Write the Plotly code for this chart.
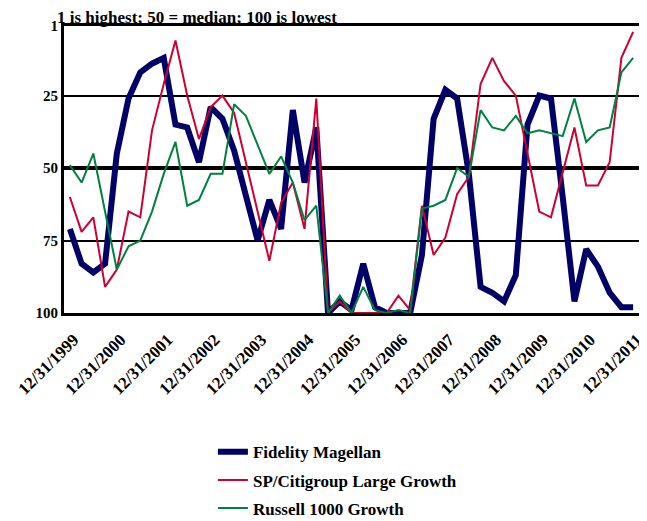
import plotly.graph_objects as go

# Quarter-end dates, 12/31/1999 .. 12/31/2011
quarters = []
for yr in range(1999, 2012):
    for md in ["3/31", "6/30", "9/30", "12/31"]:
        if yr == 1999 and md != "12/31":
            continue
        quarters.append(f"{md}/{yr}")

tick_dates = [f"12/31/{y}" for y in range(1999, 2012)]
tick_labels = [f"12/31/{y}" for y in range(1999, 2012)]

magellan = [71, 83, 86, 83, 45, 26, 17, 14, 12, 35, 36, 48, 29, 33, 44, 59, 75, 61, 71, 30,
            55, 36, 100, 96, 99, 83, 98, 100, 100, 100, 80, 33, 23, 26, 52, 91, 93, 96, 87, 35,
            25, 26, 60, 96, 78, 84, 93, 98, 98]
sp_citi = [60, 72, 67, 91, 85, 65, 67, 37, 21, 6, 25, 40, 29, 25, 31, 48, 65, 82, 62, 55,
           71, 26, 100, 96, 100, 100, 100, 100, 94, 99, 63, 80, 74, 59, 53, 21, 12, 20, 25, 45,
           65, 67, 52, 36, 56, 56, 48, 12, 3]
russell = [49, 55, 45, 65, 85, 77, 75, 65, 52, 41, 63, 61, 52, 52, 28, 32, 42, 52, 46, 55,
           68, 63, 100, 94, 100, 91, 99, 100, 99, 100, 64, 63, 61, 50, 53, 30, 36, 37, 32, 38,
           37, 38, 39, 26, 41, 37, 36, 17, 12]

y_ticks = [1, 25, 50, 75, 100]

FONT = "Liberation Serif"

fig = go.Figure()
fig.add_trace(go.Scatter(x=quarters, y=magellan, mode="lines", name="Fidelity Magellan",
                         legendgroup="a", line=dict(color="#000066", width=6)))
fig.add_trace(go.Scatter(x=quarters, y=sp_citi, mode="lines", name="SP/Citigroup Large Growth",
                         legendgroup="b", line=dict(color="#cc0033", width=2)))
fig.add_trace(go.Scatter(x=quarters, y=russell, mode="lines", name="Russell 1000 Growth",
                         legendgroup="c", line=dict(color="#008040", width=2)))

fig.add_hline(y=50, line=dict(color="black", width=4), layer="below")

W, H = 639, 513
fig.update_layout(
    width=W, height=H,
    margin=dict(l=56, r=8, t=18, b=208, autoexpand=False),
    paper_bgcolor="white", plot_bgcolor="white",
    font=dict(family=FONT, size=16, color="black", weight="bold"),
    title=dict(text="1 is highest; 50 = median; 100 is lowest",
               font=dict(family=FONT, size=17, color="black", weight="bold"),
               xref="container", x=49 / W, xanchor="left",
               yref="container", y=1 - 9.5 / H, yanchor="middle"),
    showlegend=True,
    legend=dict(orientation="v", x=0.259, xanchor="left", y=-0.4226, yanchor="top",
                font=dict(family=FONT, size=17, color="black", weight="bold"),
                bgcolor="rgba(0,0,0,0)", tracegroupgap=3),
    xaxis=dict(type="category", categoryorder="array", categoryarray=quarters,
               range=[-0.5, len(quarters) - 0.5], automargin=False,
               tickmode="array", tickvals=tick_dates, ticktext=tick_labels,
               tickangle=-45, ticks="", showgrid=False, ticklabelstandoff=7,
               ticklabelshift=4,
               showline=True, mirror=True, linecolor="black", linewidth=3,
               tickfont=dict(family=FONT, size=17, color="black", weight="bold")),
    yaxis=dict(range=[100, 1], tickmode="array", tickvals=y_ticks, automargin=False,
               ticktext=[str(v) for v in y_ticks], ticks="",
               showgrid=True, gridcolor="black", gridwidth=2, zeroline=False,
               showline=True, mirror=True, linecolor="black", linewidth=3,
               tickfont=dict(family=FONT, size=15, color="black", weight="bold")),
)

fig.write_html("out.html")
